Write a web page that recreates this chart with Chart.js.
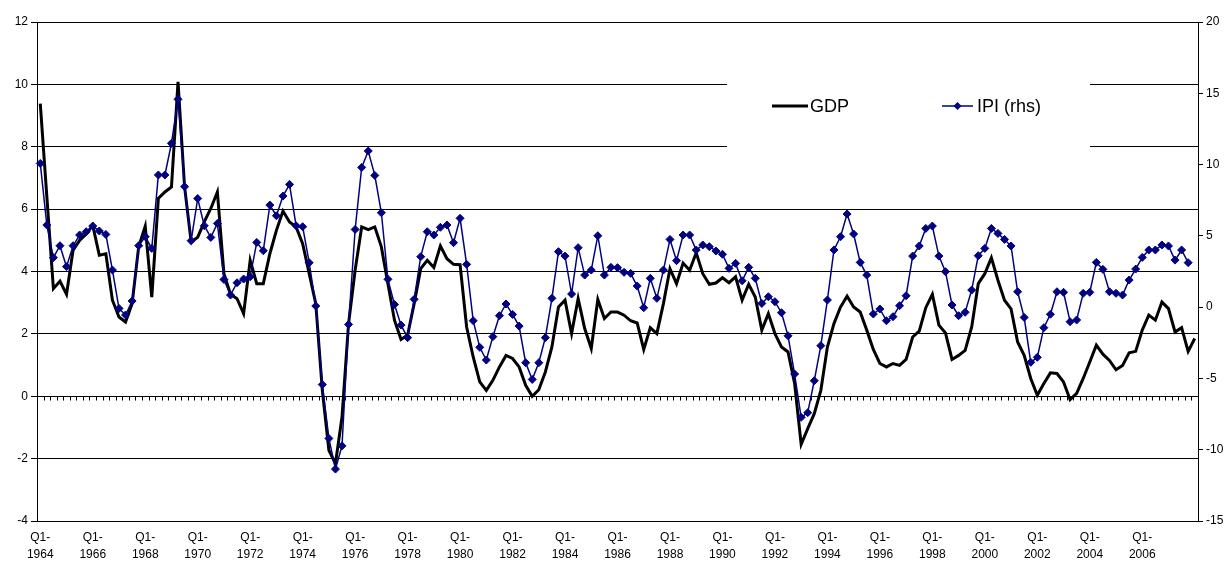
<!DOCTYPE html>
<html>
<head>
<meta charset="utf-8">
<title>GDP and IPI</title>
<script src="https://cdn.jsdelivr.net/npm/chart.js@4.4.1/dist/chart.umd.min.js"></script>
<style>
  html, body { margin: 0; padding: 0; background: #fff; }
  #wrap { width: 1228px; height: 561px; position: relative; }
</style>
</head>
<body>
<div id="wrap"><canvas id="chart" width="1228" height="561"></canvas></div>
<script>
// Quarterly categories, Q1-1964 .. Q1-2008
const firstYear = 1964;
const quarterNames = ["Q1", "Q2", "Q3", "Q4"];
const quarterCount = 177;
const categories = [];
for (let i = 0; i < quarterCount; i++) {
  categories.push(quarterNames[i % 4] + "-" + (firstYear + Math.floor(i / 4)));
}

// GDP, left axis
const gdp = [
  9.38, 6.4, 3.45, 3.69, 3.27, 4.68, 5.0, 5.2, 5.48, 4.52, 4.57, 3.08, 2.54, 2.38, 2.97, 4.79,
  5.45, 3.18, 6.34, 6.55, 6.71, 10.08, 6.71, 4.95, 5.1, 5.59, 6.02, 6.55, 3.93, 3.27, 3.13, 2.65,
  4.36, 3.61, 3.61, 4.57, 5.32, 5.94, 5.59, 5.43, 4.89, 3.93, 2.97, 0.19, -1.73, -2.16, -0.66, 2.33,
  4.04, 5.43, 5.34, 5.43, 4.79, 3.61, 2.44, 1.82, 1.96, 2.97, 4.09, 4.36, 4.13, 4.82, 4.41, 4.23,
  4.22, 2.22, 1.26, 0.46, 0.19, 0.51, 0.94, 1.31, 1.21, 0.94, 0.35, 0.0, 0.21, 0.78, 1.58, 2.86,
  3.08, 2.01, 3.13, 2.17, 1.53, 3.10, 2.49, 2.70, 2.70, 2.60, 2.42, 2.35, 1.50, 2.20, 2.01, 2.97,
  4.09, 3.61, 4.27, 4.04, 4.60, 3.93, 3.59, 3.63, 3.80, 3.64, 3.83, 3.08, 3.59, 3.18, 2.12, 2.65,
  2.01, 1.58, 1.42, 0.41, -1.54, -1.04, -0.56, 0.19, 1.58, 2.33, 2.86, 3.21, 2.86, 2.70, 2.12, 1.5,
  1.05, 0.94, 1.05, 0.99, 1.18, 1.90, 2.09, 2.84, 3.27, 2.28, 2.03, 1.18, 1.31, 1.47, 2.22, 3.61,
  3.93, 4.44, 3.72, 3.08, 2.8, 1.74, 1.31, 0.57, 0.03, 0.41, 0.75, 0.73, 0.46, -0.11, 0.09, 0.57,
  1.10, 1.64, 1.35, 1.15, 0.85, 0.99, 1.39, 1.44, 2.12, 2.60, 2.44, 3.02, 2.81, 2.06, 2.20, 1.44,
  1.85
];

// IPI, right axis
const ipi = [
  10.08, 5.76, 3.47, 4.31, 2.84, 4.31, 5.06, 5.29, 5.69, 5.34, 5.10, 2.60, -0.09, -0.55, 0.43, 4.31,
  4.94, 4.12, 9.27, 9.27, 11.49, 14.58, 8.45, 4.66, 7.62, 5.71, 4.89, 5.87, 1.94, 0.85, 1.71, 1.97,
  2.13, 4.54, 3.96, 7.16, 6.41, 7.79, 8.61, 5.71, 5.64, 3.12, 0.08, -5.43, -9.21, -11.36, -9.73, -1.21,
  5.45, 9.80, 10.95, 9.24, 6.62, 1.95, 0.19, -1.26, -2.14, 0.55, 3.54, 5.29, 5.06, 5.60, 5.76, 4.52,
  6.23, 3.00, -0.95, -2.82, -3.71, -2.07, -0.60, 0.22, -0.51, -1.33, -3.90, -5.07, -3.90, -2.14, 0.62, 3.89,
  3.58, 0.92, 4.17, 2.25, 2.60, 5.01, 2.25, 2.79, 2.77, 2.44, 2.37, 1.48, -0.04, 2.02, 0.62, 2.60,
  4.75, 3.26, 5.06, 5.06, 4.01, 4.36, 4.24, 3.94, 3.71, 2.72, 3.07, 1.85, 2.79, 2.02, 0.26, 0.73,
  0.38, -0.39, -2.01, -4.69, -7.73, -7.40, -5.16, -2.70, 0.50, 4.01, 4.94, 6.53, 5.13, 3.14, 2.25, -0.48,
  -0.13, -0.95, -0.67, 0.10, 0.80, 3.58, 4.29, 5.52, 5.69, 3.58, 2.49, 0.15, -0.60, -0.36, 1.20, 3.61,
  4.12, 5.52, 5.17, 4.75, 4.29, 1.08, -0.72, -3.87, -3.52, -1.44, -0.50, 1.08, 1.04, -1.02, -0.90, 0.97,
  1.04, 3.14, 2.65, 1.08, 0.97, 0.85, 1.90, 2.67, 3.49, 4.01, 4.01, 4.36, 4.29, 3.30, 4.01, 3.12
];

// Axis ranges / tick steps
const leftTicks = [-4, -2, 0, 2, 4, 6, 8, 10, 12];
const rightTicks = [-15, -10, -5, 0, 5, 10, 15, 20];
const labelEvery = 8;

const FONT = '"Liberation Sans", Arial, sans-serif';

// zero line tick marks + legend box in the plot
const extras = {
  id: "extras",
  beforeDatasetsDraw(chart) {
    const { ctx, scales } = chart;
    const x = scales.x, y = scales.y;
    const y0 = Math.round(y.getPixelForValue(0)) + 0.5;
    const step = x.getPixelForValue(1) - x.getPixelForValue(0);
    ctx.save();
    ctx.strokeStyle = "#000";
    ctx.lineWidth = 1;
    ctx.beginPath();
    for (let i = 1; i < categories.length; i++) {
      const px = Math.round(x.getPixelForValue(i) - step / 2) + 0.5;
      ctx.moveTo(px, y0);
      ctx.lineTo(px, y0 + 4);
    }
    ctx.stroke();

    // legend
    ctx.fillStyle = "#fff";
    ctx.fillRect(727, 62, 363, 98);
    ctx.strokeStyle = "#000";
    ctx.lineWidth = 3;
    ctx.beginPath();
    ctx.moveTo(772, 106);
    ctx.lineTo(808, 106);
    ctx.stroke();
    ctx.strokeStyle = "#000080";
    ctx.lineWidth = 1.5;
    ctx.beginPath();
    ctx.moveTo(942, 106);
    ctx.lineTo(973, 106);
    ctx.stroke();
    ctx.fillStyle = "#000080";
    ctx.beginPath();
    ctx.moveTo(957.5, 102);
    ctx.lineTo(961.5, 106);
    ctx.lineTo(957.5, 110);
    ctx.lineTo(953.5, 106);
    ctx.closePath();
    ctx.fill();
    ctx.fillStyle = "#000";
    ctx.font = "18px " + FONT;
    ctx.textBaseline = "middle";
    ctx.fillText("GDP", 810, 107);
    ctx.fillText("IPI (rhs)", 977, 107);
    ctx.restore();
  }
};

new Chart(document.getElementById("chart"), {
  type: "line",
  data: {
    labels: categories,
    datasets: [
      {
        label: "GDP",
        data: gdp,
        yAxisID: "y",
        borderColor: "#000",
        borderWidth: 3,
        pointRadius: 0,
        tension: 0,
        order: 1
      },
      {
        label: "IPI (rhs)",
        data: ipi,
        yAxisID: "y2",
        borderColor: "#000080",
        backgroundColor: "#000080",
        borderWidth: 1.5,
        pointStyle: "rectRot",
        pointRadius: 4,
        pointBackgroundColor: "#000080",
        pointBorderColor: "#000080",
        pointBorderWidth: 1,
        tension: 0,
        order: 0
      }
    ]
  },
  options: {
    responsive: false,
    animation: false,
    devicePixelRatio: 1,
    layout: { padding: { top: 22, left: 0, right: 0, bottom: 0 } },
    plugins: {
      legend: { display: false },
      tooltip: { enabled: false }
    },
    scales: {
      x: {
        offset: true,
        grid: { display: false, drawTicks: false },
        border: { display: false },
        ticks: {
          autoSkip: false,
          maxRotation: 0,
          minRotation: 0,
          padding: 8,
          color: "#000",
          font: { family: FONT, size: 12, lineHeight: 1.4 },
          callback: function (value, index) {
            // no room for a label on the last (single-quarter) year
            if (index % labelEvery !== 0 || index + labelEvery > categories.length) return null;
            const parts = categories[index].split("-");
            return [parts[0] + "-", parts[1]];
          }
        },
        afterFit: (s) => { s.height = 40; }
      },
      y: {
        position: "left",
        min: leftTicks[0],
        max: leftTicks[leftTicks.length - 1],
        ticks: {
          stepSize: leftTicks[1] - leftTicks[0],
          padding: 3,
          color: "#000",
          font: { family: FONT, size: 12 }
        },
        grid: { color: "#000", lineWidth: 1, tickLength: 6 },
        border: { display: true, color: "#000", width: 1 },
        afterFit: (s) => { s.width = 37; }
      },
      y2: {
        position: "right",
        min: rightTicks[0],
        max: rightTicks[rightTicks.length - 1],
        ticks: {
          stepSize: rightTicks[1] - rightTicks[0],
          padding: 3,
          color: "#000",
          font: { family: FONT, size: 12 }
        },
        grid: { drawOnChartArea: false, color: "#000", tickLength: 5 },
        border: { display: true, color: "#000", width: 1 },
        afterFit: (s) => { s.width = 30; }
      }
    }
  },
  plugins: [extras]
});
</script>
</body>
</html>
